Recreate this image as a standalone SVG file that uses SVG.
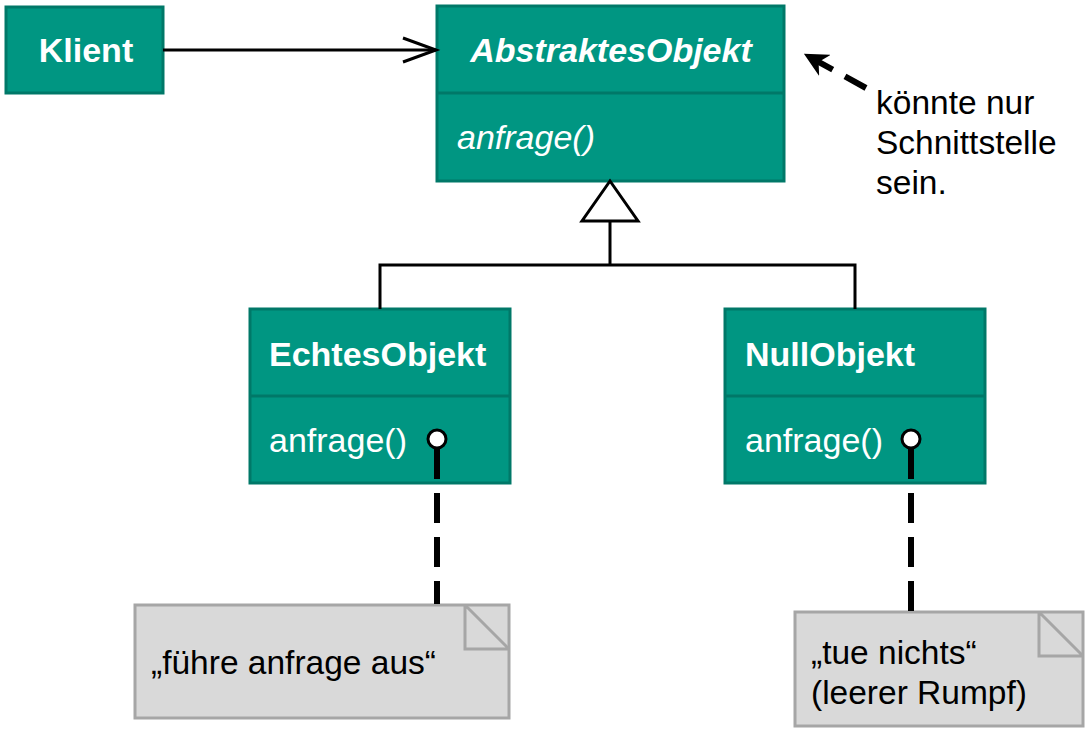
<svg xmlns="http://www.w3.org/2000/svg" width="1091" height="736" viewBox="0 0 1091 736">
<style>
.box{fill:#009682;stroke:#007868;stroke-width:3}
.div{stroke:#007868;stroke-width:3}
.t{font-family:Arial,'Liberation Sans',sans-serif;fill:#fff;font-size:34px}
.b{font-weight:bold}
.i{font-style:italic}
.n{font-family:Arial,'Liberation Sans',sans-serif;fill:#000;font-size:33.5px}
.note{fill:#d9d9d9;stroke:#a6a6a6;stroke-width:3}
.ln{stroke:#000;stroke-width:3;fill:none}
.dash{stroke:#000;stroke-width:6;fill:none;stroke-dasharray:30 14}
</style>
<defs>
<marker id="filled" viewBox="0 0 10 10" refX="9" refY="5" markerWidth="4" markerHeight="4" orient="auto" markerUnits="strokeWidth">
<path d="M0,0 L10,5 L0,10 L3,5 Z" fill="#000"/>
</marker>
</defs>
<g id="klient">
<rect class="box" x="6" y="7" width="157" height="86"/>
<text class="t b" x="86" y="62" text-anchor="middle">Klient</text>
</g>
<g id="abstraktesObjekt">
<rect class="box" x="437" y="6" width="347" height="175"/>
<line class="div" x1="437" y1="93" x2="784" y2="93"/>
<text class="t b i" x="611" y="62" text-anchor="middle">AbstraktesObjekt</text>
<text class="t i" x="457" y="149">anfrage()</text>
</g>
<g id="echtesObjekt">
<rect class="box" x="250" y="309" width="260" height="174"/>
<line class="div" x1="250" y1="396" x2="510" y2="396"/>
<text class="t b" x="269" y="366">EchtesObjekt</text>
<text class="t" x="269" y="452">anfrage()</text>
</g>
<g id="nullObjekt">
<rect class="box" x="725" y="309" width="260" height="174"/>
<line class="div" x1="725" y1="396" x2="985" y2="396"/>
<text class="t b" x="745" y="366">NullObjekt</text>
<text class="t" x="745" y="452">anfrage()</text>
</g>
<g id="note1">
<rect class="note" x="135" y="605" width="374" height="113"/>
<path class="note" d="M465,605 L465,649 L509,649 M465,605 L509,649"/>
<text class="n" x="151" y="674">„führe anfrage aus“</text>
</g>
<g id="note2">
<rect class="note" x="795" y="612" width="288" height="114"/>
<path class="note" d="M1039,612 L1039,656 L1083,656 M1039,612 L1083,656"/>
<text class="n" x="811" y="664">„tue nichts“</text>
<text class="n" x="811" y="704">(leerer Rumpf)</text>
</g>
<g id="comment">
<text class="n" x="876" y="114">könnte nur</text>
<text class="n" x="876" y="154">Schnittstelle</text>
<text class="n" x="876" y="194">sein.</text>
</g>
<g id="connectors">
<line class="ln" x1="163" y1="50" x2="436" y2="50"/>
<polyline class="ln" points="403,38 436,50 403,62"/>
<polygon points="610,181 638,221 582,221" fill="#fff" stroke="#000" stroke-width="3"/>
<line class="ln" x1="610" y1="221" x2="610" y2="265"/>
<polyline class="ln" points="380,309 380,265 855,265 855,309"/>
<line class="dash" x1="437" y1="449" x2="437" y2="604"/>
<line class="dash" x1="911" y1="449" x2="911" y2="611"/>
<circle cx="437" cy="439" r="9" fill="#fff" stroke="#000" stroke-width="3"/>
<circle cx="911" cy="439" r="9" fill="#fff" stroke="#000" stroke-width="3"/>
<line stroke="#000" stroke-width="6" stroke-dasharray="24 14" x1="866" y1="88" x2="806" y2="55" marker-end="url(#filled)"/>
</g>
</svg>
